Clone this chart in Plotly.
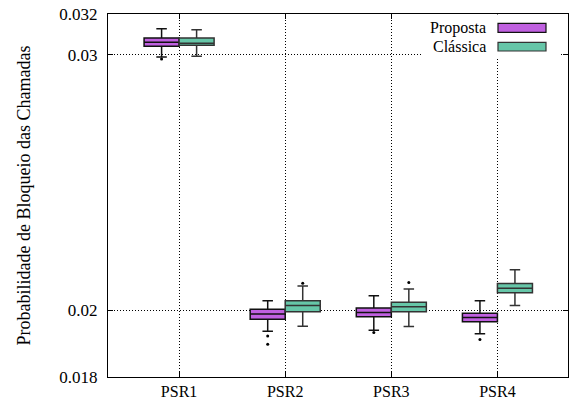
import plotly.graph_objects as go

categories = ["PSR1", "PSR2", "PSR3", "PSR4"]
cat_pos = [1, 2, 3, 4]

# Proposta
prop_lower = [0.029886, 0.019355, 0.019386, 0.019275]
prop_q1 = [0.030401, 0.019726, 0.019801, 0.019645]
prop_med = [0.030594, 0.019889, 0.019937, 0.019779]
prop_q3 = [0.030808, 0.020041, 0.020079, 0.019915]
prop_upper = [0.031264, 0.020310, 0.020471, 0.020310]
prop_out_cat = [1, 2, 2, 3, 4]
prop_out_val = [0.029792, 0.019208, 0.018958, 0.019315, 0.019102]

# Clássica
clas_lower = [0.029933, 0.019509, 0.019500, 0.020159]
clas_q1 = [0.030456, 0.019962, 0.019959, 0.020569]
clas_med = [0.030553, 0.020159, 0.020121, 0.020719]
clas_q3 = [0.030808, 0.020313, 0.020265, 0.020874]
clas_upper = [0.031206, 0.020791, 0.020693, 0.021332]
clas_out_cat = [2, 3]
clas_out_val = [0.020884, 0.020907]

y_ticks = [0.018, 0.02, 0.03, 0.032]
y_ticktext = ["0.018", "0.02", "0.03", "0.032"]

PURPLE = "#c060e0"
GREEN = "#66c6a8"
FONT = "Liberation Serif"
off = 0.165
bw = 0.33

fig = go.Figure()
fig.add_trace(go.Box(
    x=[c - off for c in cat_pos], q1=prop_q1, median=prop_med, q3=prop_q3,
    lowerfence=prop_lower, upperfence=prop_upper, width=bw,
    fillcolor=PURPLE, line=dict(color="#111111", width=1.5),
    whiskerwidth=0.3, boxpoints=False, showlegend=False, hoverinfo="skip"))
fig.add_trace(go.Box(
    x=[c + off for c in cat_pos], q1=clas_q1, median=clas_med, q3=clas_q3,
    lowerfence=clas_lower, upperfence=clas_upper, width=bw,
    fillcolor=GREEN, line=dict(color="#333333", width=1.5),
    whiskerwidth=0.3, boxpoints=False, showlegend=False, hoverinfo="skip"))
fig.add_trace(go.Scatter(
    x=[c - off for c in prop_out_cat], y=prop_out_val, mode="markers",
    marker=dict(color="black", size=3), showlegend=False, hoverinfo="skip"))
fig.add_trace(go.Scatter(
    x=[c + off for c in clas_out_cat], y=clas_out_val, mode="markers",
    marker=dict(color="black", size=3), showlegend=False, hoverinfo="skip"))

L, R, T, B = 108, 6, 14, 28
W, H = 574, 405
PW, PH = W - L - R, H - T - B

def px(x):
    return (x - L) / PW

def py(y):
    return 1 - (y - T) / PH

shapes = [
    dict(type="rect", xref="paper", yref="paper", x0=px(422), x1=px(560),
         y0=py(58), y1=py(14.5), fillcolor="white", line=dict(width=0), layer="above"),
    dict(type="rect", xref="paper", yref="paper", x0=px(498), x1=px(546),
         y0=py(32.3), y1=py(23.3), fillcolor=PURPLE, line=dict(color="#111111", width=1.2), layer="above"),
    dict(type="rect", xref="paper", yref="paper", x0=px(498), x1=px(546),
         y0=py(51), y1=py(42.3), fillcolor=GREEN, line=dict(color="#333333", width=1.2), layer="above"),
]
annotations = [
    dict(xref="paper", yref="paper", x=px(488), y=py(28), text="Proposta",
         xanchor="right", yanchor="middle", showarrow=False, font=dict(family=FONT, size=16, color="black")),
    dict(xref="paper", yref="paper", x=px(488), y=py(46.7), text="Clássica",
         xanchor="right", yanchor="middle", showarrow=False, font=dict(family=FONT, size=16, color="black")),
]

fig.update_layout(
    width=W, height=H,
    margin=dict(l=L, r=R, t=T, b=B, autoexpand=False),
    paper_bgcolor="white", plot_bgcolor="white",
    font=dict(family=FONT, size=16, color="black"),
    shapes=shapes, annotations=annotations,
    xaxis=dict(range=[0.33, 4.665], tickvals=cat_pos, ticktext=categories,
               ticks="inside", ticklen=5, tickcolor="black", showline=True,
               linecolor="black", linewidth=1.2, mirror="ticks",
               showgrid=True, gridcolor="black", griddash="1px,2px", gridwidth=1,
               zeroline=False, tickfont=dict(family=FONT, size=16)),
    yaxis=dict(type="log", range=[-1.744727495, -1.494850022],
               tickvals=y_ticks, ticktext=y_ticktext,
               ticks="inside", ticklen=5, tickcolor="black", showline=True,
               linecolor="black", linewidth=1.2, mirror="ticks",
               showgrid=True, gridcolor="black", griddash="1px,2px", gridwidth=1,
               zeroline=False, tickfont=dict(family=FONT, size=17),
               ticklabelstandoff=6,
               title=dict(text="Probabilidade de Bloqueio das Chamadas",
                          font=dict(family=FONT, size=18), standoff=23)),
)

fig.write_html("out.html", config={"displayModeBar": False},
               post_script="document.body.style.margin='0';")
